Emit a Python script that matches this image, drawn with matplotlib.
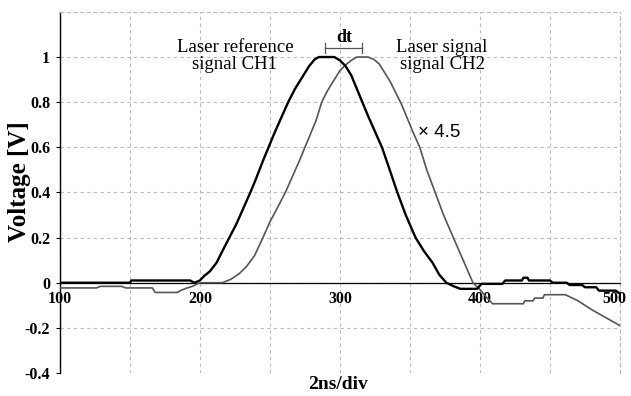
import matplotlib
matplotlib.use("Agg")
import matplotlib.pyplot as plt

# CH1 - laser reference signal (black)
ch1_t = [100, 150, 151, 193, 196, 200, 203, 207, 212, 216, 221, 226, 231, 236, 240,
         245, 249, 253, 258, 263, 268, 273, 278, 282, 285, 296, 300, 304, 308, 312,
         316, 320, 325, 330, 335, 341, 347, 354, 360, 366, 371, 376, 381, 386, 398,
         401, 416, 418, 430, 431, 434, 435, 450, 452, 462, 464, 473, 475, 483, 485,
         497, 499, 500]
ch1_v = [0.0, 0.0, 0.01, 0.01, 0.0, 0.01, 0.03, 0.05, 0.09, 0.14, 0.20, 0.26, 0.33, 0.40, 0.46,
         0.54, 0.60, 0.66, 0.73, 0.80, 0.86, 0.91, 0.96, 0.99, 1.0, 1.0, 0.985, 0.96, 0.92, 0.86,
         0.80, 0.74, 0.67, 0.60, 0.51, 0.40, 0.30, 0.20, 0.14, 0.09, 0.035, 0.0, -0.015, -0.027, -0.027,
         -0.005, -0.005, 0.01, 0.01, 0.022, 0.022, 0.01, 0.01, 0.0, 0.0, -0.01, -0.01, -0.02, -0.02, -0.035,
         -0.035, -0.045, -0.045]

# CH2 - laser signal (gray, x 4.5)
ch2_t = [100, 126, 129, 144, 147, 166, 168, 184, 186, 190, 195, 198, 201, 216, 222,
         228, 233, 239, 245, 250, 256, 261, 266, 271, 275, 279, 283, 287, 291, 296,
         300, 304, 308, 312, 320, 324, 328, 332, 336, 340, 344, 348, 352, 357, 362,
         368, 374, 381, 388, 395, 400, 404, 407, 409, 431, 432, 438, 439, 445, 446,
         461, 470, 480, 490, 500]
ch2_v = [-0.023, -0.023, -0.016, -0.016, -0.023, -0.023, -0.043, -0.043, -0.035, -0.025, -0.015, -0.005, 0.0, 0.0, 0.015,
         0.04, 0.07, 0.12, 0.20, 0.27, 0.34, 0.40, 0.47, 0.54, 0.60, 0.66, 0.72, 0.80, 0.85, 0.90,
         0.94, 0.965, 0.985, 1.0, 1.0, 0.99, 0.97, 0.93, 0.89, 0.84, 0.79, 0.73, 0.67, 0.60, 0.50,
         0.40, 0.30, 0.20, 0.10, 0.0, -0.03, -0.06, -0.08, -0.093, -0.093, -0.08, -0.08, -0.068, -0.068, -0.053,
         -0.053, -0.08, -0.12, -0.155, -0.19]

x_ticks = [100, 200, 300, 400, 500]
x_labels = ['100', '200', '300', '400', '']   # 500 drawn separately, nudged left
x_minor = [150, 250, 350, 450]
y_ticks = [-0.4, -0.2, 0, 0.2, 0.4, 0.6, 0.8, 1]
y_labels = ['-0.4', '-0.2', '0', '0.2', '0.4', '0.6', '0.8', '1']

serif = 'Liberation Serif'

fig = plt.figure(figsize=(6.31, 3.96), dpi=100)
ax = fig.add_axes([0.095, 0.058, 0.8875, 0.912])

ax.plot(ch2_t, ch2_v, color='#555555', lw=1.2, zorder=3)
ax.plot(ch1_t, ch1_v, color='black', lw=1.7, zorder=4)

ax.set_xlim(100, 500)
ax.set_ylim(-0.4, 1.2)

# spine position first: it resets the ticks
ax.spines['bottom'].set_position(('data', 0))
ax.spines['bottom'].set_linewidth(0.9)
ax.spines['left'].set_linewidth(1.0)
for s in ['top', 'right']:
    ax.spines[s].set_color('#bbbbbb')
    ax.spines[s].set_linestyle((0, (3, 3)))
    ax.spines[s].set_linewidth(0.8)

ax.set_xticks(x_ticks)
ax.set_xticklabels(x_labels)
ax.set_xticks(x_minor, minor=True)
ax.set_yticks(y_ticks)
ax.set_yticklabels(y_labels)
ax.tick_params(axis='x', which='both', length=0, pad=6)
ax.tick_params(axis='y', length=3, width=0.8, pad=4)
for lab in ax.get_xticklabels() + ax.get_yticklabels():
    lab.set_fontfamily(serif)
    lab.set_fontweight('bold')
    lab.set_fontsize(11.5)
ax.annotate('500', xy=(x_ticks[-1], 0), xytext=(-4, -6), textcoords='offset points',
            ha='center', va='top', fontfamily=serif, fontweight='bold', fontsize=11.5,
            annotation_clip=False)

ax.grid(True, which='both', color='#bbbbbb', linestyle=(0, (3, 3)), lw=0.8)

ax.text(-0.073, 0.53, 'Voltage [V]', transform=ax.transAxes, rotation=90,
        ha='center', va='center', fontfamily=serif, fontweight='bold', fontsize=18)
ax.text(0.496, -0.033, '2ns/div', transform=ax.transAxes, ha='center', va='center',
        fontfamily=serif, fontweight='bold', fontsize=14)

ax.text(225, 1.004, 'Laser reference\nsignal CH1', ha='center', va='center',
        fontfamily=serif, fontsize=13.5, linespacing=1.0)
ax.text(373, 1.004, 'Laser signal\nsignal CH2', ha='center', va='center',
        fontfamily=serif, fontsize=13.5, linespacing=1.0)
ax.text(356, 0.664, '\u00d7 4.5', ha='left', va='center', fontfamily='Liberation Sans', fontsize=13.5)

# dt bracket
ax.plot([289, 316], [1.04, 1.04], color='#555555', lw=0.9)
ax.plot([289, 289], [1.02, 1.06], color='#555555', lw=0.9)
ax.plot([316, 316], [1.02, 1.06], color='#555555', lw=0.9)
ax.text(303, 1.085, 'dt', ha='center', va='center', fontfamily=serif, fontweight='bold', fontsize=13)

fig.savefig('out.png', dpi=100)
